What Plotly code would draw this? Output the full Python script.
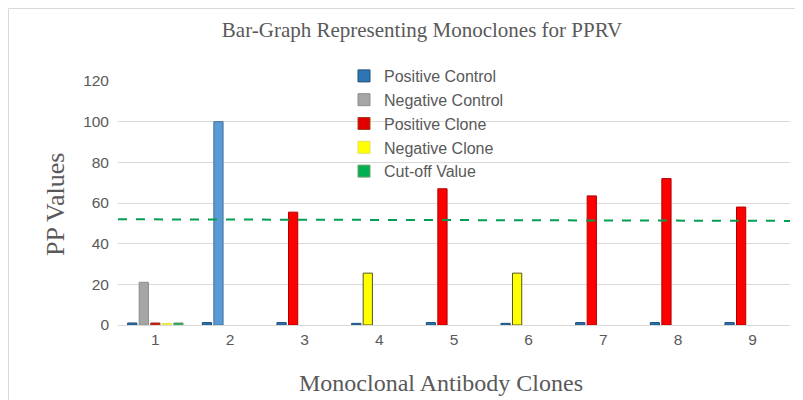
import plotly.graph_objects as go

categories = ["1", "2", "3", "4", "5", "6", "7", "8", "9"]
positive_control = [1.0, 1.2, 1.2, 0.8, 1.2, 0.8, 1.2, 1.2, 1.2]
main_values = [21, 100, 55.5, 25.5, 67, 25.5, 63.5, 72, 58]
main_colors = ["#A5A5A5", "#5B9BD5", "#FF0000", "#FFFF00", "#FF0000",
               "#FFFF00", "#FF0000", "#FF0000", "#FF0000"]
main_lines = ["#8C8C8C", "#41719C", "#B00000", "#555522", "#B00000",
              "#555522", "#B00000", "#B00000", "#B00000"]
positive_clone = [1.0, None, None, None, None, None, None, None, None]
negative_clone = [0.8, None, None, None, None, None, None, None, None]
cutoff_bar = [1.0, None, None, None, None, None, None, None, None]
cutoff_value = 52
y_ticks = [0, 20, 40, 60, 80, 100, 120]

W, H = 795, 392
L, R, T, B = 110, 13, 73, 75
PW, PH = W - L - R, H - T - B

tick_font = dict(family="Liberation Sans, Arial, sans-serif", size=15.5, color="#595959")
serif = "Liberation Serif, Times New Roman, serif"

fig = go.Figure()
fig.add_trace(go.Bar(x=categories, y=positive_control, name="Positive Control",
                     marker=dict(color="#2E75B6", line=dict(color="#1F4E79", width=1))))
fig.add_trace(go.Bar(x=categories, y=main_values, name="Negative Control",
                     marker=dict(color=main_colors, line=dict(color=main_lines, width=1))))
fig.add_trace(go.Bar(x=categories, y=positive_clone, name="Positive Clone",
                     marker=dict(color="#E00000", line=dict(color="#A04020", width=1))))
fig.add_trace(go.Bar(x=categories, y=negative_clone, name="Negative Clone",
                     marker=dict(color="#FFFF00", line=dict(color="#E0E060", width=1))))
fig.add_trace(go.Bar(x=categories, y=cutoff_bar, name="Cut-off Value",
                     marker=dict(color="#00B050", line=dict(color="#70A070", width=1))))

fig.add_shape(type="line", xref="paper", yref="y", x0=0, x1=1,
              y0=cutoff_value, y1=cutoff_value - 0.8,
              line=dict(color="#00A050", width=2, dash="dash"))

# chart border
fig.add_shape(type="rect", xref="paper", yref="paper",
              x0=(0.5 - L) / PW, x1=(W + 20 - L) / PW,
              y0=-(H + 20 - T - PH) / PH, y1=(T + PH - 0.5) / PH,
              line=dict(color="#D9D9D9", width=1), layer="below")

# axis titles
fig.add_annotation(text="Monoclonal Antibody Clones", xref="paper", yref="paper",
                   x=(433 - L) / PW, y=(T + PH - 375) / PH, xanchor="center", yanchor="middle",
                   showarrow=False, font=dict(family=serif, size=24, color="#595959"))
fig.add_annotation(text="PP Values", xref="paper", yref="paper", textangle=-90,
                   x=(47 - L) / PW, y=(T + PH - 197) / PH, xanchor="center", yanchor="middle",
                   showarrow=False, font=dict(family=serif, size=26, color="#595959"))

fig.update_layout(
    width=W, height=H,
    margin=dict(l=L, r=R, t=T, b=B),
    paper_bgcolor="white", plot_bgcolor="white",
    barmode="group", bargap=0.227, bargroupgap=0.2,
    title=dict(text="Bar-Graph Representing Monoclones for PPRV",
               font=dict(family=serif, size=21, color="#595959"),
               x=414 / W, xanchor="center", y=1 - 22 / H, yanchor="middle"),
    showlegend=True,
    legend=dict(x=(336 - L) / PW, y=(T + PH - 51) / PH, xanchor="left", yanchor="top",
                bgcolor="rgba(0,0,0,0)", font=dict(family="Liberation Sans, Arial, sans-serif",
                                                   size=16, color="#595959"),
                itemwidth=30, tracegroupgap=0),
    xaxis=dict(tickfont=tick_font, showgrid=False, showline=True, linecolor="#D9D9D9",
               ticks="", automargin=False),
    yaxis=dict(range=[0, 120], tickvals=y_ticks, tickfont=tick_font, showgrid=True,
               gridcolor="#D9D9D9", zeroline=False, showline=False, ticks="",
               ticklabelstandoff=8, automargin=False),
)

fig.write_html("out.html")
